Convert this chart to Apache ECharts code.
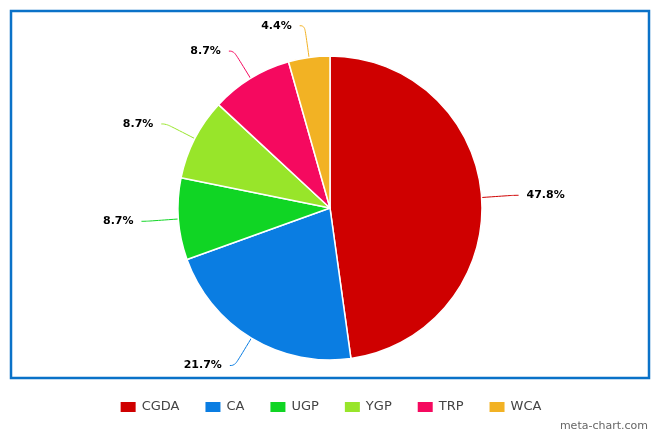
<!DOCTYPE html>
<html><head><meta charset="utf-8">
<script src="https://cdn.jsdelivr.net/npm/echarts@6/dist/echarts.min.js"></script>
<style>html,body{margin:0;padding:0;background:#fff}#c{width:660px;height:440px}</style>
</head><body><div id="c"></div>
<script>
const categories = ["CGDA", "CA", "UGP", "YGP", "TRP", "WCA"];
const values = [47.8, 21.7, 8.7, 8.7, 8.7, 4.4];
const colors = ["#cf0000", "#0a7de2", "#10d524", "#98e52a", "#f5095f", "#f2b224"];

const chart = echarts.init(document.getElementById('c'), null, {renderer: 'canvas'});
chart.setOption({
  animation: false,
  color: colors,
  graphic: [
    {type: 'rect', shape: {x: 11, y: 11, width: 638, height: 367}, style: {fill: 'none', stroke: '#0a72c8', lineWidth: 2.5}},
    {type: 'text', right: 12, bottom: 8, style: {text: 'meta-chart.com', fill: '#666', font: '11px "DejaVu Sans", sans-serif'}}
  ],
  legend: {
    bottom: 21, left: 'center',
    itemWidth: 17, itemHeight: 12, itemGap: 24,
    icon: 'rect',
    textStyle: {color: '#444', fontSize: 13, fontFamily: '"DejaVu Sans", sans-serif'},
    data: categories
  },
  series: [{
    type: 'pie',
    center: [330, 208],
    radius: [0, 152],
    startAngle: 90,
    clockwise: true,
    avoidLabelOverlap: false,
    itemStyle: {borderColor: '#fff', borderWidth: 1.5},
    label: {
      formatter: p => p.value.toFixed(1) + '%',
      color: '#000', fontWeight: 'bold', fontSize: 11, fontFamily: '"DejaVu Sans", sans-serif',
      distanceToLabelLine: 8
    },
    labelLine: {length: 32, length2: 5, smooth: 0.5, lineStyle: {width: 1}},
    data: categories.map((c, i) => ({name: c, value: values[i]}))
  }]
});
</script></body></html>
